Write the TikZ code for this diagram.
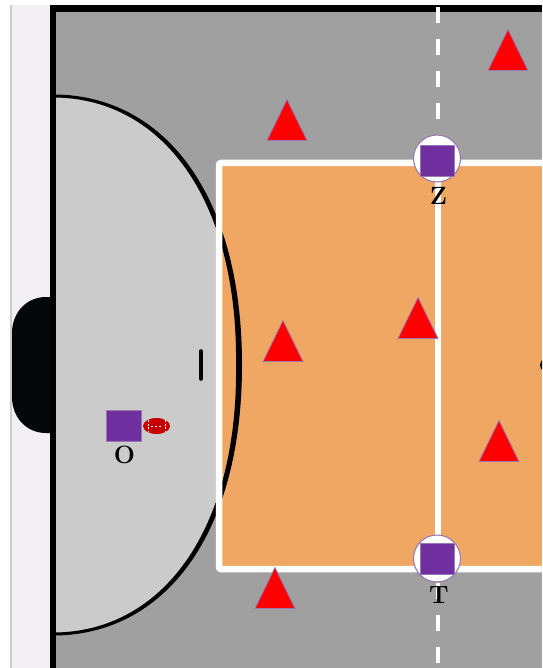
\documentclass[tikz,border=0pt]{standalone}
\usetikzlibrary{shapes.geometric}
\definecolor{page}{HTML}{F2F0F4}
\definecolor{court}{HTML}{A0A0A0}
\definecolor{zone}{HTML}{CBCBCB}
\definecolor{field}{HTML}{F0A764}
\definecolor{player}{HTML}{7030A0}
\definecolor{edgep}{HTML}{9A78B0}
\definecolor{ballred}{HTML}{C80000}
\definecolor{ink}{HTML}{030708}
\tikzset{
  defender/.style={isosceles triangle,isosceles triangle stretches,shape border rotate=90,anchor=apex,
    draw=edgep,fill=red,line width=0.8pt,inner sep=0pt,outer sep=0pt,minimum height=41pt,minimum width=40pt},
  playerbox/.style={draw=edgep,fill=player,line width=0.6pt,inner sep=0pt,minimum width=#1,minimum height=31pt},
  ring/.style={circle,draw=edgep,fill=white,line width=1.1pt,inner sep=0pt,minimum size=47pt},
  tag/.style={inner sep=0pt,text=black,font=\fontsize{25}{25}\selectfont\bfseries},
}
\begin{document}
\begin{tikzpicture}[x=1pt,y=-1pt]
\useasboundingbox (0,0) rectangle (542,668);
\begin{scope}
\clip (0,0) rectangle (542,668);
\fill[white] (0,0) rectangle (542,668);
\fill[page] (12,5) rectangle (52,668);
\fill[black!20] (10,5) rectangle (12,668);
\fill[ink] (52,297) -- (46,297) .. controls (26,297) and (12,313) .. (12,333) -- (12,397) .. controls (12,417) and (26,433) .. (46,433) -- (52,433) -- cycle;
\fill[court] (52,8) rectangle (542,668);
% goal area
\fill[zone] (53,96) .. controls (161,96) and (240,195) .. (240,365) .. controls (240,535) and (161,634) .. (53,634) -- cycle;
% field
\fill[field] (219,163) rectangle (542,569);
% goal-area line: thin at the ends, thicker in the middle
\fill[black] (53,94.5) .. controls (163,94.5) and (242,193) .. (242,365) .. controls (242,537) and (163,635.5) .. (53,635.5)
  -- (53,632.5) .. controls (161,632.5) and (238,532) .. (236,365) .. controls (238,198) and (161,97.5) .. (53,97.5) -- cycle;
% boundary
\draw[black,line width=6pt] (53,668) -- (53,8.5);
\draw[black,line width=7pt] (50,8.5) -- (542,8.5);
% dashed centre line
\draw[white,line width=3.6pt,dash pattern=on 16pt off 16pt] (438,7) -- (438,668);
% field lines
\draw[white,line width=6.5pt,rounded corners=2pt] (542,163) -- (219,163) -- (219,569) -- (542,569);
\draw[white,line width=6.5pt] (438,163) -- (438,569);
% free-throw mark and far circle
\draw[ink,line width=3.6pt,line cap=round] (201,351) -- (201,379);
\fill[ink] (552,365) ellipse (12pt and 9pt);
\end{scope}
% defenders
\node[defender] (d1) at (508,29.5) {};
\node[defender] (d2) at (287,99.5) {};
\node[defender] (d3) at (283,320.5) {};
\node[defender] (d4) at (418,297.5) {};
\node[defender] (d5) at (499,420.5) {};
\node[defender] (d6) at (275,567.5) {};
% players
\node[ring] (zring) at (437,158.5) {};
\node[playerbox=34pt] (z) at (437.5,160.5) {};
\node[ring] (tring) at (437,558.5) {};
\node[playerbox=34pt] (t) at (437.5,559) {};
\node[playerbox=35pt] (o) at (123.5,425.5) {};
\node[tag] (zl) at (438.5,196) {Z};
\node[tag] (tl) at (439,595) {T};
\node[tag] (ol) at (124.5,454.5) {O};
% ball
\node[ellipse,fill=ballred,inner sep=0pt,minimum width=27pt,minimum height=16pt] (ball) at (156.5,426) {};
\draw[white,line width=0.9pt,dash pattern=on 2pt off 2pt] (151,426) -- (163,426);
\draw[white,line width=0.8pt,dash pattern=on 2pt off 1.5pt] (148,420) -- (148,432) (165,420) -- (165,432);
\end{tikzpicture}
\end{document}
